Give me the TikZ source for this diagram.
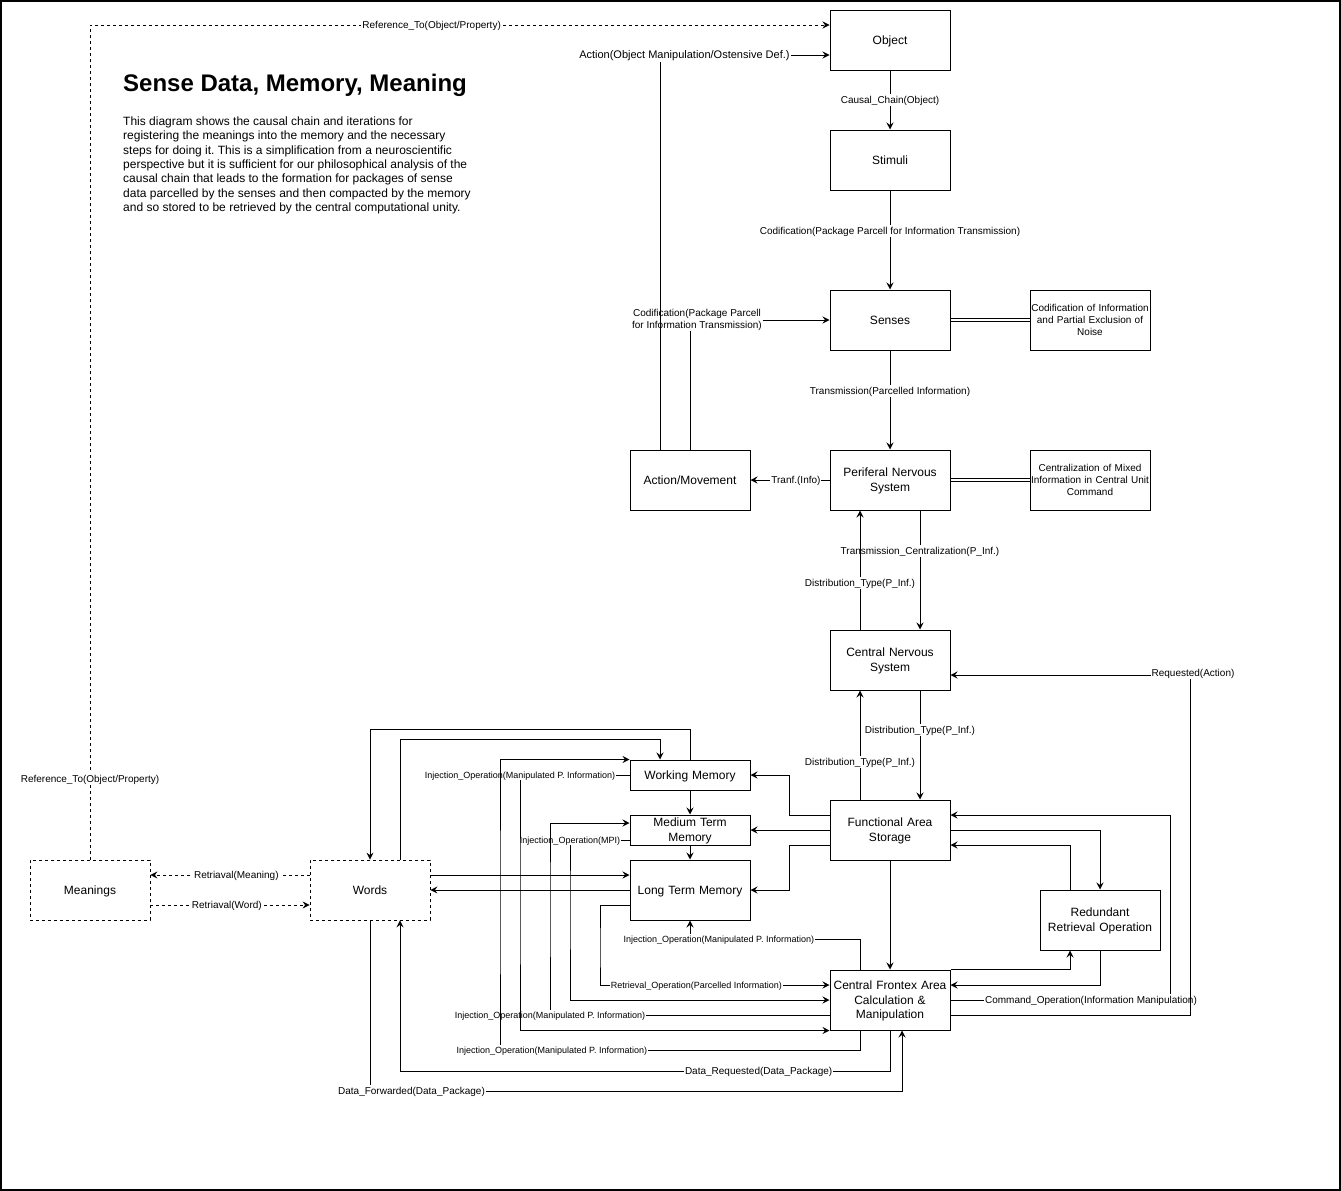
\documentclass[tikz,border=0pt]{standalone}
\usepackage{fontspec}
\setmainfont{Liberation Sans}
\usetikzlibrary{arrows.meta,calc}
\newcommand\dstr{\rule[-0.2535em]{0pt}{1.2em}}
\frenchspacing
\begin{document}
\begin{tikzpicture}[x=1pt,y=-1pt,
  every node/.style={inner sep=0pt},
  box/.style={draw, line width=1pt, fill=white, minimum width=120pt, minimum height=60pt, text width=120pt, align=center, font=\fontsize{12}{14.4}\selectfont, execute at begin node=\dstr, execute at end node=\dstr},
  sbox/.style={box, minimum height=30pt},
  nbox/.style={box, font=\fontsize{10}{12}\selectfont},
  dbox/.style={box, line width=0.8pt, dash pattern=on 3pt off 3pt},
  arr/.style={line width=1pt, -{Stealth[length=7pt,width=7pt,inset=2.5pt]}},
  dsh/.style={line width=0.8pt, dash pattern=on 3pt off 3pt},
  lbl/.style={fill=white, inner xsep=1pt, inner ysep=0pt, font=\fontsize{10}{12}\selectfont, execute at begin node=\dstr, execute at end node=\dstr},
  slbl/.style={lbl, font=\fontsize{9}{10.8}\selectfont},
  dbl/.style={line width=0.8pt, double, double distance=2.5pt}
]
\useasboundingbox (0,0) rectangle (1341,1191);
\draw[line width=1.5pt] (1,1) rectangle (1340,1190);

% title and description
\node[anchor=base west, font=\fontsize{24}{28}\selectfont\bfseries] (title) at (123,91.5) {Sense Data, Memory, Meaning};
\node[anchor=north west, align=left, font=\fontsize{12}{14.4}\selectfont] (desc) at (123,116.5) {This diagram shows the causal chain and iterations for\\registering the meanings into the memory and the necessary\\steps for doing it. This is a simplification from a neuroscientific\\perspective but it is sufficient for our philosophical analysis of the\\causal chain that leads to the formation for packages of sense\\data parcelled by the senses and then compacted by the memory\\and so stored to be retrieved by the central computational unity.};

% nodes
\node[box] (obj) at (890,40) {Object};
\node[box] (stim) at (890,160) {Stimuli};
\node[box] (sens) at (890,320) {Senses};
\node[nbox] (cod) at (1090,320) {Codification of Information\\and Partial Exclusion of\\Noise};
\node[box] (pns) at (890,480) {Periferal Nervous\\System};
\node[nbox] (cen) at (1090,480) {Centralization of Mixed\\Information in Central Unit\\Command};
\node[box] (act) at (690,480) {Action/Movement};
\node[box] (cns) at (890,660) {Central Nervous\\System};
\node[box] (fas) at (890,830) {Functional Area\\Storage};
\node[box] (rro) at (1100,920) {Redundant\\Retrieval Operation};
\node[box] (cfa) at (890,1000) {Central Frontex Area\\Calculation \&\\Manipulation};
\node[sbox] (wm) at (690,775) {Working Memory};
\node[sbox] (mtm) at (690,830) {Medium Term\\Memory};
\node[box] (ltm) at (690,890) {Long Term Memory};
\node[dbox] (words) at (370,890) {Words};
\node[dbox] (mean) at (90,890) {Meanings};

\coordinate (rt1) at (1170,900);
\coordinate (rt2) at (1190,900);
\coordinate (vA) at (500,900);
\coordinate (vB) at (520,900);
\coordinate (vC) at (550,900);
\coordinate (vD) at (570,900);
\coordinate (vE) at (600,950);

% upper chain
\draw[arr] (obj) -- node[lbl]{Causal\_Chain(Object)} (stim);
\draw[arr] (stim) -- node[lbl,pos=0.41]{Codification(Package Parcell for Information Transmission)} (sens);
\draw[arr] (act.north) |- node[lbl,pos=0.525,align=center,font=\fontsize{10}{12.5}\selectfont]{Codification(Package Parcell\\for Information Transmission)} (sens.west);
\draw[arr] ([xshift=-30pt]act.north) |- node[lbl,pos=0.572,font=\fontsize{11}{13.2}\selectfont]{Action(Object Manipulation/Ostensive Def.)} ([yshift=-15pt]obj.west);
\draw[arr,dsh] (mean.north) |- node[lbl,pos=0.048]{Reference\_To(Object/Property)} node[lbl,pos=0.731]{Reference\_To(Object/Property)} ([yshift=15pt]obj.west);
\draw[dbl] (sens.east) -- (cod.west);
\draw[arr] (sens) -- node[lbl,pos=0.41]{Transmission(Parcelled Information)} (pns);
\draw[dbl] (pns.east) -- (cen.west);
\draw[arr] (pns.west) -- node[lbl,pos=0.425]{Tranf.(Info)} (act.east);
\draw[arr] ([xshift=30pt]pns.south) -- node[lbl,pos=0.34]{Transmission\_Centralization(P\_Inf.)} ([xshift=30pt]cns.north);
\draw[arr] ([xshift=-30pt]cns.north) -- node[lbl,pos=0.39]{Distribution\_Type(P\_Inf.)} ([xshift=-30pt]pns.south);
\draw[arr] ([xshift=30pt]cns.south) -- node[lbl,pos=0.36]{Distribution\_Type(P\_Inf.)} ([xshift=30pt]fas.north);
\draw[arr] ([xshift=-30pt]fas.north) -- node[lbl,pos=0.345]{Distribution\_Type(P\_Inf.)} ([xshift=-30pt]cns.south);

% right side
\draw[arr] (cfa.east) -| node[lbl,pos=0.32]{Command\_Operation(Information Manipulation)} (rt1) |- ([yshift=15pt]fas.east);
\draw[arr] ([yshift=-15pt]cfa.east) -| (rt2) |- node[lbl,pos=0.5,xshift=3pt,yshift=2pt]{Requested(Action)} ([yshift=-15pt]cns.east);
\draw[arr] (fas.east) -| (rro.north);
\draw[arr] ([xshift=-30pt]rro.north) |- ([yshift=-15pt]fas.east);
\draw[arr] (fas) -- (cfa);
\draw[arr] (cfa.north east) -| ([xshift=-30pt]rro.south);
\draw[arr] (rro.south) |- ([yshift=15pt]cfa.east);

% storage to memories
\draw[arr] ([yshift=15pt]fas.west) -- ++(-40,0) |- (wm.east);
\draw[arr] (fas.west) -- (mtm.east);
\draw[arr] ([yshift=-15pt]fas.west) -- ++(-40,0) |- (ltm.east);
\draw[arr] (wm) -- (mtm);
\draw[arr] (mtm) -- (ltm);

% words
\draw[arr] (wm.north) -- ++(0,-30) -| (words.north);
\draw[arr] ([xshift=30pt]words.north) -- ++(0,-120) -| ([xshift=-30pt]wm.north);
\draw[arr] ([yshift=15pt]words.east) -- ([yshift=15pt]ltm.west);
\draw[arr] (ltm.west) -- (words.east);
\draw[arr,dsh] ([yshift=15pt]words.west) -- node[lbl,pos=0.46]{Retriaval(Meaning)} ([yshift=15pt]mean.east);
\draw[arr,dsh] ([yshift=-15pt]mean.east) -- node[lbl,pos=0.48]{Retriaval(Word)} ([yshift=-15pt]words.west);

% injection / retrieval operations
\draw[arr] ([yshift=-10pt]mtm.west) -| node[slbl,pos=0.5]{Injection\_Operation(MPI)} (vD) |- (cfa.west);
\draw[arr] ([yshift=-15pt]cfa.west) -| node[slbl,pos=0.5]{Injection\_Operation(Manipulated P. Information)} (vC) |- ([yshift=7pt]mtm.west);
\draw[arr] (wm.west) -| node[slbl,pos=0.5]{Injection\_Operation(Manipulated P. Information)} (vB) |- (cfa.south west);
\draw[arr] ([xshift=-30pt]cfa.south) -- ++(0,20) -| node[slbl,pos=0.428]{Injection\_Operation(Manipulated P. Information)} (vA) |- (wm.north west);
\draw[arr] ([yshift=-15pt]ltm.west) -| (vE) |- node[slbl,pos=0.71]{Retrieval\_Operation(Parcelled Information)} ([yshift=15pt]cfa.west);
\draw[arr] ([xshift=-30pt]cfa.north) -- ++(0,-30) -| node[slbl,pos=0.415]{Injection\_Operation(Manipulated P. Information)} (ltm.south);
\draw[arr] (cfa.south) -- ++(0,41) -| node[lbl,pos=0.134]{Data\_Requested(Data\_Package)} ([xshift=30pt]words.south);
\draw[arr] (words.south) -- ++(0,171) -| node[lbl,pos=0.039]{Data\_Forwarded(Data\_Package)} ([xshift=12pt]cfa.south);
\end{tikzpicture}
\end{document}
